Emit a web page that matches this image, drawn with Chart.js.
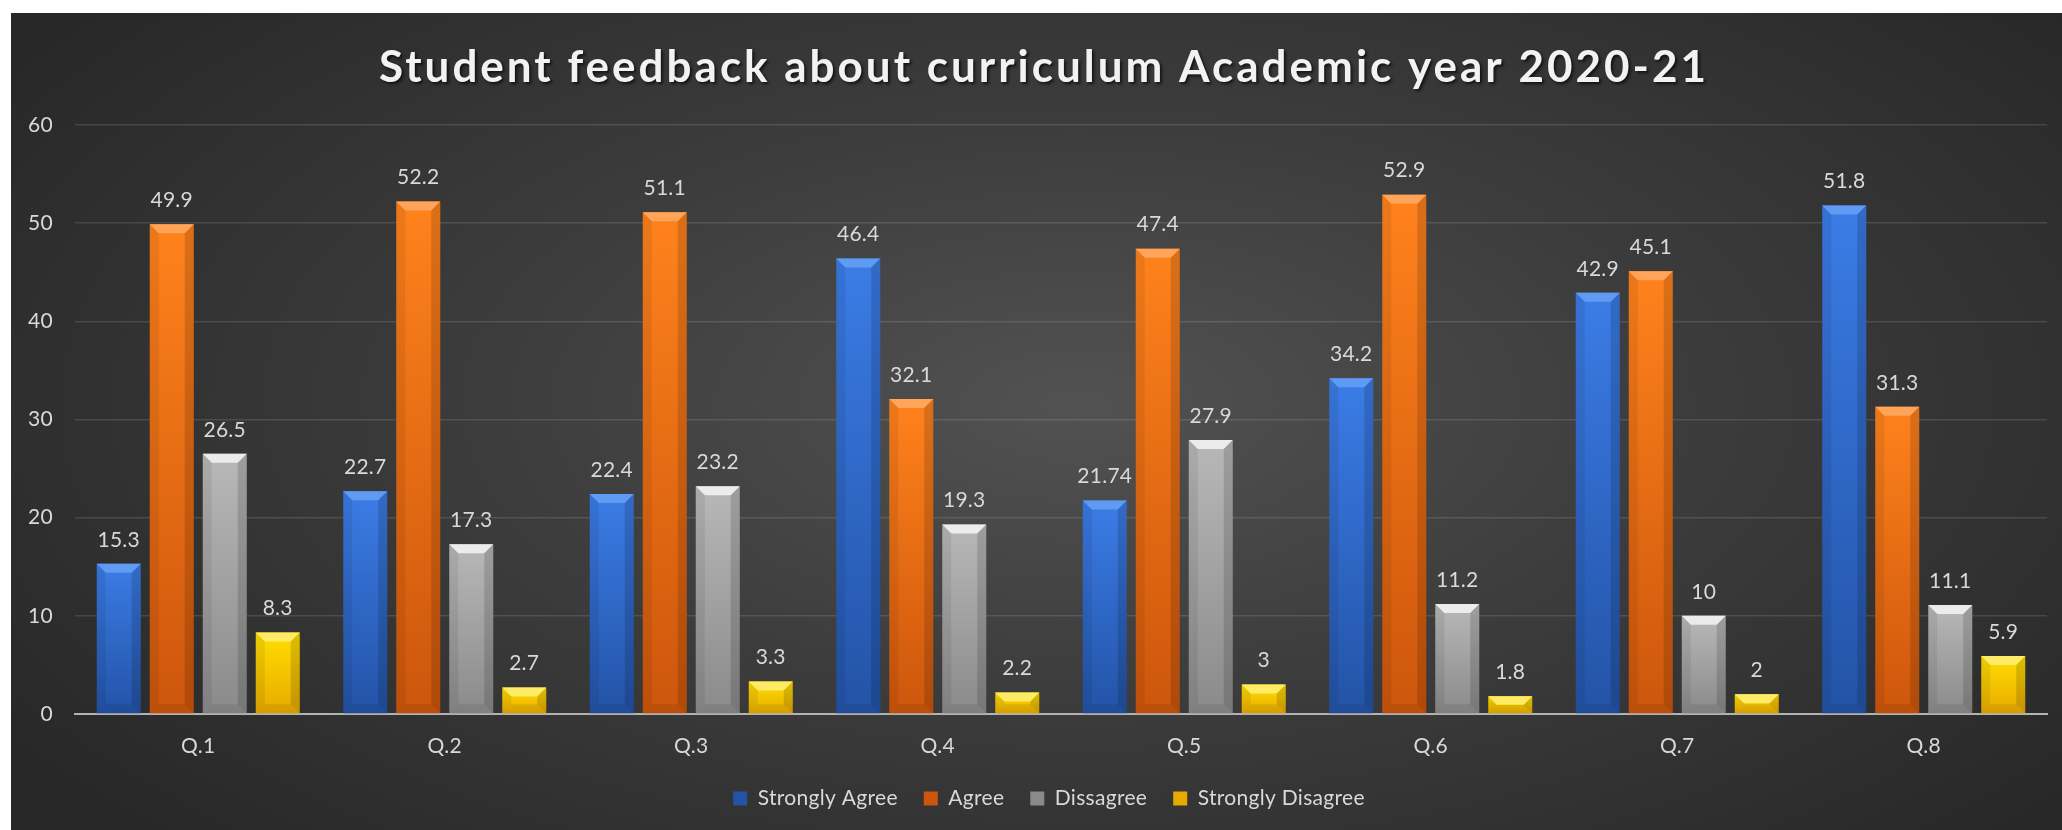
<!DOCTYPE html>
<html>
<head>
<meta charset="utf-8">
<title>Student feedback about curriculum</title>
<script src="https://cdn.jsdelivr.net/npm/chart.js@4.4.1/dist/chart.umd.min.js"></script>
<style>
  html, body { margin: 0; padding: 0; background: #ffffff; }
  #wrap {
    position: absolute; left: 11px; top: 13px; width: 2051px; height: 817px;
    background: radial-gradient(ellipse 62% 75% at 52% 48%, #525252 0%, #3d3d3d 45%, #282828 100%);
  }
</style>
</head>
<body>
<div id="wrap"><canvas id="feedbackChart" width="2051" height="817"></canvas></div>
<script>
// Data
const questions = ["Q.1", "Q.2", "Q.3", "Q.4", "Q.5", "Q.6", "Q.7", "Q.8"];
const stronglyAgree = [15.3, 22.7, 22.4, 46.4, 21.74, 34.2, 42.9, 51.8];
const agree = [49.9, 52.2, 51.1, 32.1, 47.4, 52.9, 45.1, 31.3];
const dissagree = [26.5, 17.3, 23.2, 19.3, 27.9, 11.2, 10, 11.1];
const stronglyDisagree = [8.3, 2.7, 3.3, 2.2, 3, 1.8, 2, 5.9];
const seriesNames = ["Strongly Agree", "Agree", "Dissagree", "Strongly Disagree"];
const yTicks = [0, 10, 20, 30, 40, 50, 60];

const chartTitle = "Student feedback about curriculum Academic year 2020-21";
const textColor = "#d9d9d9";
const fontFamily = "Lato, 'Open Sans', sans-serif";
const fontSize = 21;

// top colour, bottom colour, bevel colour per series
const palette = [
  ["#3b7ce6", "#2353a6", "#5f9bf2"],
  ["#ff821c", "#cc560c", "#ffa458"],
  ["#b8b8b8", "#8a8a8a", "#ececec"],
  ["#ffde00", "#e8a900", "#ffec66"],
];

// gradient for each bar, from its top to the axis
const barFill = (top, bottom) => (ctx) => {
  const chart = ctx.chart;
  const yScale = chart.scales.y;
  if (ctx.type !== "data" || !yScale) return top;
  const yTop = yScale.getPixelForValue(ctx.raw);
  const yBase = yScale.getPixelForValue(0);
  if (!isFinite(yTop) || yBase - yTop < 1) return top;
  const g = chart.ctx.createLinearGradient(0, yTop, 0, yBase);
  g.addColorStop(0, top);
  g.addColorStop(1, bottom);
  return g;
};

// slightly spaced text like the original, and legend nudged right
const textSpacing = {
  id: "textSpacing",
  beforeLayout(chart) {
    if ("letterSpacing" in chart.ctx) chart.ctx.letterSpacing = "0.3px";
  },
  afterLayout(chart) {
    chart.legend.left += 20;
    chart.legend.right += 20;
  },
  beforeDraw(chart) {
    if ("letterSpacing" in chart.ctx) chart.ctx.letterSpacing = "0.3px";
  },
};

// bevel edges on bars
const bevelPlugin = {
  id: "bevel",
  afterDatasetsDraw(chart) {
    const c = chart.ctx;
    chart.data.datasets.forEach((ds, i) => {
      const meta = chart.getDatasetMeta(i);
      meta.data.forEach((bar) => {
        const { x, y, base, width } = bar.getProps(["x", "y", "base", "width"], true);
        const l = x - width / 2;
        const r = x + width / 2;
        const d = Math.min(9, (base - y) / 2);
        c.save();
        c.fillStyle = palette[i][2];
        c.beginPath();
        c.moveTo(l, y);
        c.lineTo(r, y);
        c.lineTo(r - d, y + d);
        c.lineTo(l + d, y + d);
        c.closePath();
        c.fill();
        c.fillStyle = "rgba(0,0,0,0.14)";
        c.beginPath();
        c.moveTo(r, y);
        c.lineTo(r, base);
        c.lineTo(r - d, base - d);
        c.lineTo(r - d, y + d);
        c.closePath();
        c.fill();
        c.fillStyle = "rgba(0,0,0,0.07)";
        c.beginPath();
        c.moveTo(l, y);
        c.lineTo(l, base);
        c.lineTo(l + d, base - d);
        c.lineTo(l + d, y + d);
        c.closePath();
        c.fill();
        c.fillStyle = "rgba(0,0,0,0.08)";
        c.beginPath();
        c.moveTo(l, base);
        c.lineTo(r, base);
        c.lineTo(r - d, base - d);
        c.lineTo(l + d, base - d);
        c.closePath();
        c.fill();
        c.restore();
      });
    });
  },
};

// value labels above bars
const valueLabelPlugin = {
  id: "valueLabels",
  afterDatasetsDraw(chart) {
    const c = chart.ctx;
    c.save();
    c.font = fontSize + "px " + fontFamily;
    c.fillStyle = textColor;
    c.textAlign = "center";
    c.textBaseline = "middle";
    chart.data.datasets.forEach((ds, i) => {
      const meta = chart.getDatasetMeta(i);
      meta.data.forEach((bar, j) => {
        c.fillText(String(ds.data[j]), bar.x, bar.y - 24);
      });
    });
    c.restore();
  },
};

// big title with shadow
const titlePlugin = {
  id: "bigTitle",
  afterDraw(chart) {
    const c = chart.ctx;
    c.save();
    c.font = "bold 44px " + fontFamily;
    if ("letterSpacing" in c) c.letterSpacing = "3px";
    c.fillStyle = "#f2f2f2";
    c.textAlign = "center";
    c.textBaseline = "middle";
    c.shadowColor = "rgba(0,0,0,0.65)";
    c.shadowOffsetX = 2;
    c.shadowOffsetY = 2;
    c.shadowBlur = 3;
    c.fillText(chartTitle, 1033, 55);
    c.restore();
  },
};

const seriesData = [stronglyAgree, agree, dissagree, stronglyDisagree];

const ctx = document.getElementById("feedbackChart").getContext("2d");
const feedbackChart = new Chart(ctx, {
  type: "bar",
  data: {
    labels: questions,
    datasets: seriesNames.map((name, i) => ({
      label: name,
      data: seriesData[i],
      backgroundColor: barFill(palette[i][0], palette[i][1]),
      borderWidth: 0,
      barPercentage: 0.83,
      categoryPercentage: 0.86,
    })),
  },
  options: {
    responsive: false,
    animation: false,
    layout: { padding: { top: 112, right: 15, left: 0, bottom: 11 } },
    plugins: {
      title: { display: false },
      tooltip: { enabled: false },
      legend: {
        position: "bottom",
        labels: {
          color: textColor,
          font: { family: fontFamily, size: fontSize },
          boxWidth: 14,
          boxHeight: 14,
          padding: 26,
        },
      },
    },
    scales: {
      x: {
        grid: { display: false, drawTicks: false },
        border: { display: true, color: "#b3b3b3", width: 2 },
        ticks: { color: textColor, font: { family: fontFamily, size: fontSize }, padding: 20 },
        afterFit(scale) {
          scale.height = 48;
        },
      },
      y: {
        min: yTicks[0],
        max: yTicks[yTicks.length - 1],
        afterBuildTicks(scale) {
          scale.ticks = yTicks.map((v) => ({ value: v }));
        },
        afterFit(scale) {
          scale.width = 64;
        },
        ticks: { color: textColor, font: { family: fontFamily, size: fontSize }, padding: 22 },
        grid: { color: "rgba(255,255,255,0.12)", lineWidth: 1.5, drawTicks: false },
        border: { display: false },
      },
    },
  },
  plugins: [textSpacing, bevelPlugin, valueLabelPlugin, titlePlugin],
});
</script>
</body>
</html>
